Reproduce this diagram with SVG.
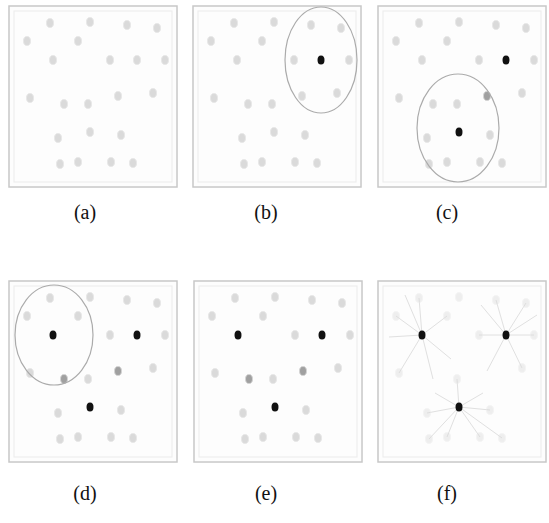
<svg xmlns="http://www.w3.org/2000/svg" width="549" height="523" viewBox="0 0 549 523">
<style>
.frame{fill:#fdfdfd;stroke:#c8c8c8;stroke-width:1.5}
.inner{fill:none;stroke:#ebebeb;stroke-width:1}
.d{fill:#dadada;stroke:#e8e8e8;stroke-width:1}
.dk{fill:#a0a0a0;stroke:#d4d4d4;stroke-width:1}
.c{fill:#111}
.ring{fill:none;stroke:#ababab;stroke-width:1.2}
.sp{stroke:#e0e0e0;stroke-width:1;fill:none}
.lbl{font-family:"Liberation Serif","Times New Roman",serif;font-size:20px;fill:#111;text-anchor:middle}
</style>
<defs>
<g id="dots">
<ellipse class="d" cx="50" cy="23" rx="3.5" ry="4.5"/>
<ellipse class="d" cx="90" cy="22" rx="3.5" ry="4.5"/>
<ellipse class="d" cx="127" cy="25" rx="3.5" ry="4.5"/>
<ellipse class="d" cx="157" cy="28" rx="3.5" ry="4.5"/>
<ellipse class="d" cx="27" cy="41" rx="3.5" ry="4.5"/>
<ellipse class="d" cx="78" cy="41" rx="3.5" ry="4.5"/>
<ellipse class="d" cx="110" cy="60" rx="3.5" ry="4.5"/>
<ellipse class="d" cx="165" cy="60" rx="3.5" ry="4.5"/>
<ellipse class="d" cx="30" cy="98" rx="3.5" ry="4.5"/>
<ellipse class="d" cx="88" cy="104" rx="3.5" ry="4.5"/>
<ellipse class="d" cx="153" cy="93" rx="3.5" ry="4.5"/>
<ellipse class="d" cx="58" cy="138" rx="3.5" ry="4.5"/>
<ellipse class="d" cx="121" cy="135" rx="3.5" ry="4.5"/>
<ellipse class="d" cx="60" cy="164" rx="3.5" ry="4.5"/>
<ellipse class="d" cx="78" cy="162" rx="3.5" ry="4.5"/>
<ellipse class="d" cx="111" cy="162" rx="3.5" ry="4.5"/>
<ellipse class="d" cx="133" cy="163" rx="3.5" ry="4.5"/>
</g>
</defs>

<g id="panel-a">
<rect class="frame" x="9" y="6" width="168" height="181"/>
<rect class="inner" x="14" y="11" width="158" height="171"/>
<use href="#dots"/>
<ellipse class="d" cx="53" cy="60" rx="3.5" ry="4.5"/>
<ellipse class="d" cx="137" cy="60" rx="3.5" ry="4.5"/>
<ellipse class="d" cx="64" cy="104" rx="3.5" ry="4.5"/>
<ellipse class="d" cx="118" cy="96" rx="3.5" ry="4.5"/>
<ellipse class="d" cx="90" cy="132" rx="3.5" ry="4.5"/>
</g>

<g id="panel-b" transform="translate(184,0)">
<rect class="frame" x="9" y="6" width="168" height="181"/>
<rect class="inner" x="14" y="11" width="158" height="171"/>
<use href="#dots"/>
<ellipse class="d" cx="53" cy="60" rx="3.5" ry="4.5"/>
<ellipse class="d" cx="64" cy="104" rx="3.5" ry="4.5"/>
<ellipse class="d" cx="118" cy="96" rx="3.5" ry="4.5"/>
<ellipse class="d" cx="90" cy="132" rx="3.5" ry="4.5"/>
<ellipse class="ring" cx="137" cy="60" rx="36" ry="53"/>
<ellipse class="c" cx="137" cy="60" rx="3.5" ry="4.5"/>
</g>

<g id="panel-c" transform="translate(369,0)">
<rect class="frame" x="9" y="6" width="168" height="181"/>
<rect class="inner" x="14" y="11" width="158" height="171"/>
<use href="#dots"/>
<ellipse class="d" cx="53" cy="60" rx="3.5" ry="4.5"/>
<ellipse class="d" cx="64" cy="104" rx="3.5" ry="4.5"/>
<ellipse class="dk" cx="118" cy="96" rx="3.5" ry="4.5"/>
<ellipse class="ring" cx="89" cy="128" rx="41" ry="54"/>
<ellipse class="c" cx="137" cy="60" rx="3.5" ry="4.5"/>
<ellipse class="c" cx="90" cy="132" rx="3.5" ry="4.5"/>
</g>

<g id="panel-d" transform="translate(0,275)">
<rect class="frame" x="9" y="6" width="168" height="181"/>
<rect class="inner" x="14" y="11" width="158" height="171"/>
<use href="#dots"/>
<ellipse class="dk" cx="64" cy="104" rx="3.5" ry="4.5"/>
<ellipse class="dk" cx="118" cy="96" rx="3.5" ry="4.5"/>
<ellipse class="ring" cx="54" cy="60" rx="39" ry="50"/>
<ellipse class="c" cx="53" cy="60" rx="3.5" ry="4.5"/>
<ellipse class="c" cx="137" cy="60" rx="3.5" ry="4.5"/>
<ellipse class="c" cx="90" cy="132" rx="3.5" ry="4.5"/>
</g>

<g id="panel-e" transform="translate(185,275)">
<rect class="frame" x="9" y="6" width="168" height="181"/>
<rect class="inner" x="14" y="11" width="158" height="171"/>
<use href="#dots"/>
<ellipse class="dk" cx="64" cy="104" rx="3.5" ry="4.5"/>
<ellipse class="dk" cx="118" cy="96" rx="3.5" ry="4.5"/>
<ellipse class="c" cx="53" cy="60" rx="3.5" ry="4.5"/>
<ellipse class="c" cx="137" cy="60" rx="3.5" ry="4.5"/>
<ellipse class="c" cx="90" cy="132" rx="3.5" ry="4.5"/>
</g>

<g id="panel-f" transform="translate(369,275)">
<rect class="frame" x="9" y="6" width="168" height="181"/>
<rect class="inner" x="14" y="11" width="158" height="171"/>
<g id="connectors">
<path class="sp" d="M53 60L27 41M53 60L50 23M53 60L78 41M53 60L20 62M53 60L30 98M53 60L64 104M53 60L36 20M53 60L82 84"/>
<path class="sp" d="M137 60L127 25M137 60L157 28M137 60L110 60M137 60L165 60M137 60L118 96M137 60L153 93M137 60L112 30M137 60L168 40"/>
<path class="sp" d="M90 132L58 138M90 132L121 135M90 132L60 164M90 132L78 162M90 132L111 162M90 132L133 163M90 132L88 104M90 132L66 118M90 132L114 118"/>
</g>
<g opacity="0.4"><use href="#dots"/></g>
<ellipse class="c" cx="53" cy="60" rx="3.5" ry="4.5"/>
<ellipse class="c" cx="137" cy="60" rx="3.5" ry="4.5"/>
<ellipse class="c" cx="90" cy="132" rx="3.5" ry="4.5"/>
</g>

<text class="lbl" x="85" y="219">(a)</text>
<text class="lbl" x="266" y="219">(b)</text>
<text class="lbl" x="447" y="219">(c)</text>
<text class="lbl" x="85" y="500">(d)</text>
<text class="lbl" x="266" y="500">(e)</text>
<text class="lbl" x="447" y="500">(f)</text>
</svg>
